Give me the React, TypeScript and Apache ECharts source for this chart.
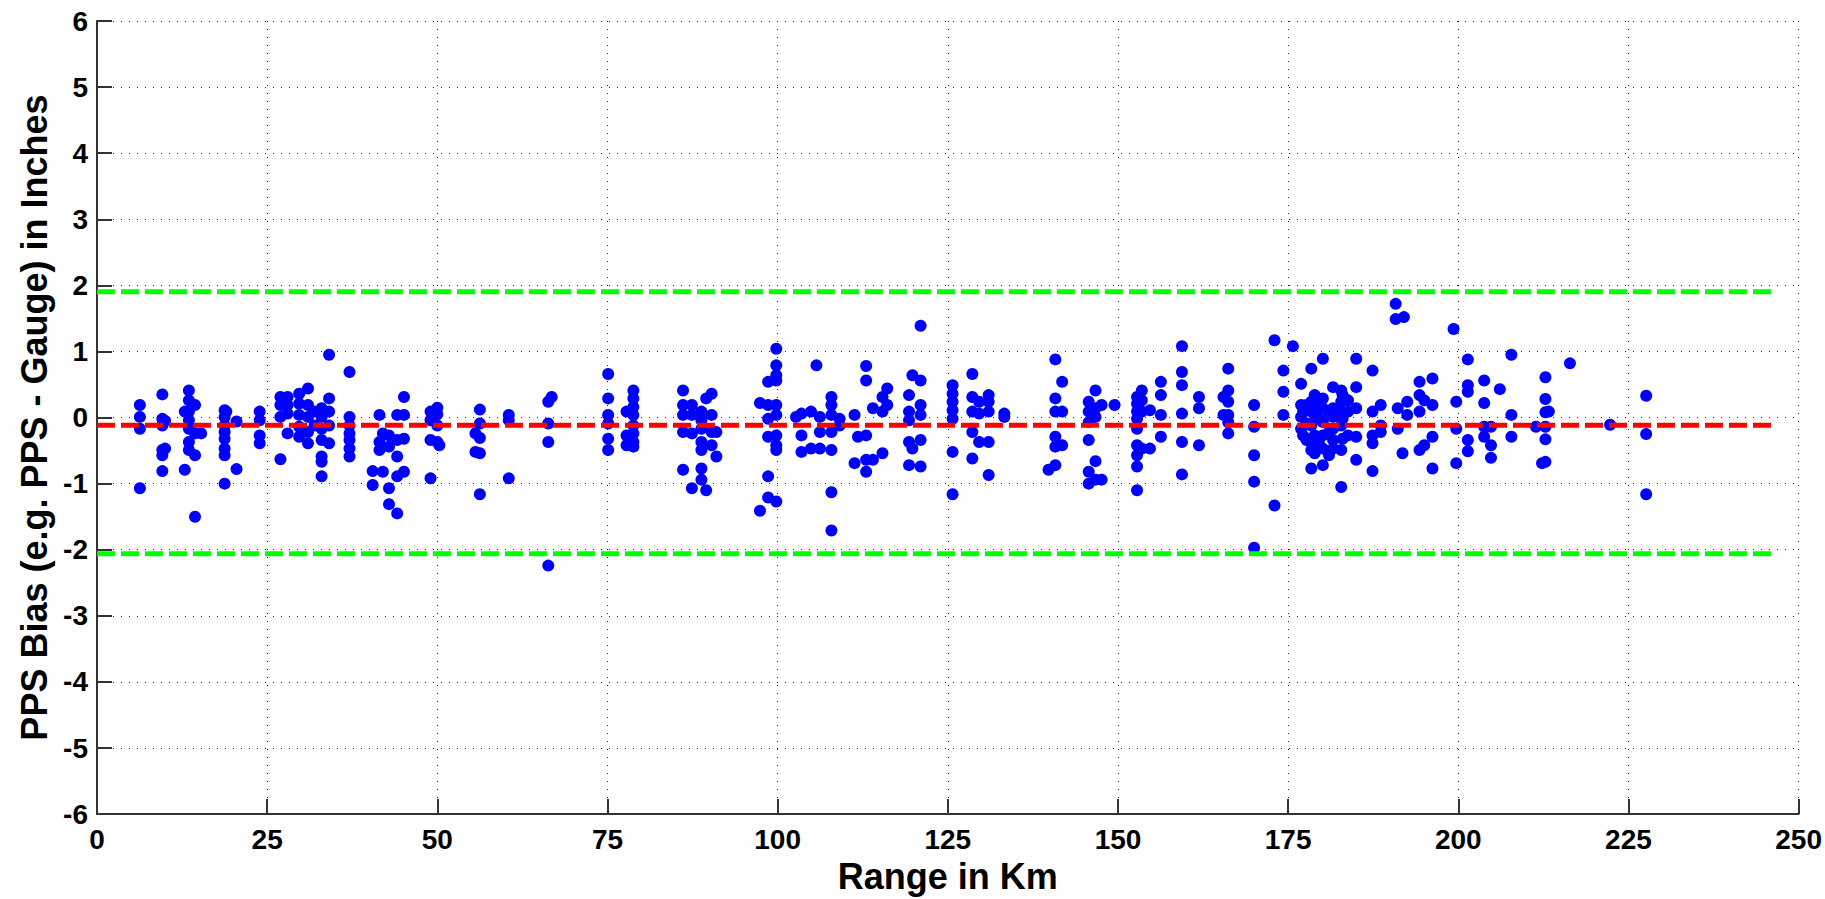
import React, { useEffect, useRef } from "react";
import * as echarts from "echarts";

// Range (km) of each column of gauges, and the biases (inches) observed there
const rangeKm: number[] = [
  6.3, 9.6, 10.0, 12.9, 13.5, 14.4, 15.3, 18.75, 19.0, 20.5, 23.9,
  26.95, 28.0, 29.7, 31.0, 31.95, 33.0, 34.1, 37.1, 40.5, 41.5, 42.0, 42.9, 44.1, 45.1, 49.0,
  50.0, 50.3, 55.6, 56.25, 60.5, 66.3, 66.8,
  75.1, 77.8, 78.8, 86.1, 87.4, 88.8, 89.5, 90.3, 91.0, 97.4, 98.6, 99.8,
  102.7, 103.5, 104.9, 105.7, 106.2, 107.9, 109.1, 111.3, 111.8, 113.0, 114.0, 115.4, 116.1, 119.3, 119.8, 121.0,
  125.7, 128.6, 129.6, 131.0, 133.3, 139.8, 140.8, 141.8, 145.7, 146.7, 147.6, 149.5,
  152.8, 153.5, 154.7, 156.3, 159.4, 161.9, 165.5, 166.2, 170.0, 173.0, 174.3,
  175.7, 176.9, 177.2, 177.7, 178.4, 178.9, 179.5, 180.1, 181.0, 181.6, 182.8, 183.0, 183.8, 185.0, 187.4, 188.6,
  190.8, 191.1, 191.8, 192.0, 192.5, 194.3, 195.0, 196.2,
  199.3, 199.7, 201.4, 203.8, 204.8, 206.1, 207.8, 211.4, 212.3, 212.8, 213.3, 216.4, 222.3,
  227.6,
];

const biasIn: number[][] = [
  [0.19, 0.01, -0.17, -1.07],
  [0.35, -0.02, -0.12, -0.49, -0.57, -0.81],
  [-0.05, -0.47],
  [0.09, -0.79],
  [0.41, 0.26, 0.09, -0.04, -0.17, -0.37, -0.49],
  [0.19, -0.24, -0.57, -1.5],
  [-0.24],
  [0.11, 0.01, -0.12, -0.22, -0.32, -0.47, -0.57, -1.0],
  [0.09],
  [-0.06, -0.78],
  [0.09, -0.04, -0.27, -0.39],
  [0.31, 0.19, 0.01, -0.63],
  [0.31, 0.19, 0.06, -0.24],
  [0.36, 0.21, 0.04, -0.14, -0.29],
  [0.44, 0.19, 0.01, -0.22, -0.39],
  [0.09, -0.12],
  [0.14, 0.01, -0.17, -0.34, -0.59, -0.67, -0.89],
  [0.95, 0.29, 0.09, -0.12, -0.39],
  [0.69, 0.01, -0.12, -0.24, -0.34, -0.47, -0.59],
  [-0.81, -1.02],
  [0.04, -0.37, -0.49],
  [-0.24, -0.82],
  [-0.27, -0.44, -1.07, -1.31],
  [0.04, -0.34, -0.59, -0.89, -1.45],
  [0.31, 0.04, -0.32, -0.82],
  [0.09, -0.04, -0.34, -0.92],
  [0.15, 0.05, -0.12, -0.37],
  [-0.42],
  [-0.24, -0.52],
  [0.12, -0.09, -0.31, -0.54, -1.16],
  [0.04, -0.04, -0.92],
  [0.24, -0.09, -0.37, -2.24],
  [0.31],
  [0.66, 0.29, 0.04, -0.09, -0.32, -0.49],
  [0.09, -0.27, -0.42],
  [0.41, 0.29, 0.16, 0.04, -0.12, -0.24, -0.37, -0.44],
  [0.41, 0.19, 0.04, -0.22, -0.79],
  [0.19, 0.04, -0.24, -1.07],
  [0.09, -0.04, -0.17, -0.37, -0.49, -0.77, -0.94],
  [0.29, -1.1],
  [0.36, 0.04, -0.22, -0.42],
  [-0.22, -0.59],
  [0.22, -1.41],
  [0.54, 0.19, -0.02, -0.29, -0.89, -1.21],
  [1.04, 0.79, 0.64, 0.56, 0.19, 0.04, -0.27, -0.42, -0.49, -1.27],
  [0.01],
  [0.06, -0.27, -0.52],
  [0.09, -0.47],
  [0.79],
  [0.01, -0.22, -0.47],
  [0.31, 0.19, 0.04, -0.22, -0.49, -1.13, -1.71],
  [-0.02, -0.12],
  [0.04, -0.69],
  [-0.29],
  [0.78, 0.56, -0.27, -0.64, -0.82],
  [0.14, -0.64],
  [0.31, 0.09, -0.54],
  [0.44, 0.19],
  [0.34, 0.09, -0.04, -0.37, -0.72],
  [0.64, -0.47],
  [1.39, 0.56, 0.19, 0.04, -0.34, -0.74],
  [0.49, 0.36, 0.24, 0.11, -0.02, -0.52, -1.16],
  [0.66, 0.31, 0.09, -0.22, -0.62],
  [0.24, 0.06, -0.37],
  [0.34, 0.24, 0.09, -0.37, -0.87],
  [0.06, 0.01],
  [-0.79],
  [0.88, 0.29, 0.09, -0.29, -0.44, -0.72],
  [0.54, 0.09, -0.42],
  [0.24, 0.09, -0.07, -0.34, -0.82, -1.0],
  [0.41, 0.14, 0.01, -0.66, -0.94],
  [0.19, -0.94],
  [0.19],
  [0.31, 0.21, 0.09, -0.02, -0.17, -0.42, -0.57, -0.74, -1.1],
  [0.41, 0.26, 0.09, -0.47],
  [0.11, -0.47],
  [0.54, 0.34, 0.04, -0.29],
  [1.08, 0.69, 0.49, 0.06, -0.37, -0.86],
  [0.31, 0.14, -0.42],
  [0.31, 0.04],
  [0.74, 0.41, 0.24, 0.04, -0.07, -0.24],
  [0.19, -0.14, -0.57, -0.97, -1.97],
  [1.17, -1.33],
  [0.71, 0.39, 0.04],
  [1.08],
  [0.51, 0.19, 0.01, -0.17],
  [0.09, -0.27],
  [0.19, -0.09, -0.34],
  [0.74, 0.24, 0.09, -0.12, -0.37, -0.49, -0.77],
  [0.34, 0.04, -0.27, -0.54],
  [0.19, -0.02, -0.37],
  [0.89, 0.29, 0.14, -0.07, -0.27, -0.47, -0.72],
  [0.04, -0.22, -0.57],
  [0.46, 0.14, 0.01, -0.17, -0.34, -0.47],
  [0.41, 0.24, 0.09, -0.12, -0.49, -1.05],
  [0.34, -0.02, -0.32],
  [0.26, 0.09, -0.27],
  [0.89, 0.46, 0.14, -0.29, -0.64],
  [0.71, 0.09, -0.27, -0.39, -0.81],
  [0.19, -0.12, -0.22],
  [1.72, 1.49],
  [0.14, -0.17],
  [-0.54],
  [1.52],
  [0.24, 0.04],
  [0.54, 0.34, 0.09, -0.49],
  [0.26, -0.42],
  [0.59, 0.19, -0.29, -0.77],
  [1.34],
  [0.24, -0.17, -0.69],
  [0.88, 0.49, 0.39, -0.34, -0.51],
  [0.56, 0.22, -0.14, -0.29],
  [-0.14, -0.42, -0.61],
  [0.43],
  [0.95, 0.04, -0.29],
  [-0.14],
  [-0.69],
  [0.61, 0.28, 0.08, -0.14, -0.33, -0.67],
  [0.09],
  [0.82],
  [-0.11],
  [0.33, -0.25, -1.16],
];

// Reference lines (inches) and their extent (km)
const meanBias = -0.116;
const upperLimit = 1.905;
const lowerLimit = -2.06;
const refLineStart = 0;
const refLineEnd = 246;

// Axis ranges
const xMin = 0;
const xMax = 250;
const xStep = 25;
const yMin = -6;
const yMax = 6;
const yStep = 1;

const xTitle = "Range in Km";
const yTitle = "PPS Bias (e.g. PPS - Gauge) in Inches";

export default function App() {
  const ref = useRef<HTMLDivElement>(null);

  useEffect(() => {
    if (!ref.current) return;
    const chart = echarts.init(ref.current, null, { renderer: "svg" });

    const points: [number, number][] = [];
    rangeKm.forEach((x, i) => {
      (biasIn[i] || []).forEach((y) => points.push([x, y]));
    });

    const font = "Liberation Sans, Arial, Helvetica, sans-serif";
    const gridLine = {
      show: true,
      lineStyle: { color: "#222", width: 1, type: [1, 7] as any },
    };
    const refLine = (y: number, color: string) => ({
      type: "line",
      data: [
        [refLineStart, y],
        [refLineEnd, y],
      ],
      symbol: "none",
      silent: true,
      z: 5,
      lineStyle: { color, width: 5, type: [18, 6] as any },
    });

    chart.setOption({
      animation: false,
      backgroundColor: "#ffffff",
      grid: { left: 97, right: 20, top: 21, bottom: 82, containLabel: false },
      xAxis: {
        type: "value",
        min: xMin,
        max: xMax,
        interval: xStep,
        name: xTitle,
        nameLocation: "middle",
        nameGap: 43,
        nameTextStyle: { fontFamily: font, fontWeight: "bold", fontSize: 36, color: "#000" },
        axisLine: { show: true, onZero: false, lineStyle: { color: "#333", width: 2 } },
        axisTick: { show: true, inside: true, length: 15, lineStyle: { color: "#333", width: 2 } },
        axisLabel: { fontFamily: font, fontWeight: "bold", fontSize: 28, color: "#000", margin: 11 },
        splitLine: gridLine,
      },
      yAxis: {
        type: "value",
        min: yMin,
        max: yMax,
        interval: yStep,
        name: yTitle,
        nameLocation: "middle",
        nameGap: 38,
        nameTextStyle: { fontFamily: font, fontWeight: "bold", fontSize: 36, color: "#000" },
        axisLine: { show: true, onZero: false, lineStyle: { color: "#333", width: 2 } },
        axisTick: { show: true, inside: true, length: 15, lineStyle: { color: "#333", width: 2 } },
        axisLabel: { fontFamily: font, fontWeight: "bold", fontSize: 28, color: "#000", margin: 9 },
        splitLine: gridLine,
      },
      series: [
        {
          type: "scatter",
          data: points,
          symbol: "circle",
          symbolSize: 12,
          z: 3,
          itemStyle: { color: "#0000ff", opacity: 1 },
        },
        refLine(upperLimit, "#00ff00"),
        refLine(lowerLimit, "#00ff00"),
        refLine(meanBias, "#ff0000"),
      ],
    });

    return () => chart.dispose();
  }, []);

  return (
    <div
      ref={ref}
      style={{ position: "fixed", left: 0, top: 0, width: 1825, height: 899, background: "#fff" }}
    />
  );
}
